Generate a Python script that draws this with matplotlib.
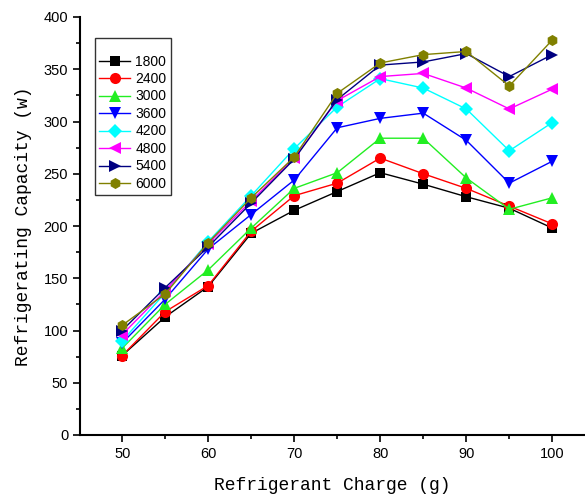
import numpy as np
import matplotlib.pyplot as plt
from matplotlib.ticker import MultipleLocator

# refrigerant charge (g)
charge = [50, 55, 60, 65, 70, 75, 80, 85, 90, 95, 100]

# refrigerating capacity (w) for each speed
cap_1800 = [76, 113, 142, 193, 215, 233, 251, 240, 228, 217, 198]
cap_2400 = [76, 118, 143, 195, 229, 241, 265, 250, 236, 219, 202]
cap_3000 = [83, 125, 158, 198, 236, 251, 284, 284, 246, 216, 227]
cap_3600 = [88, 130, 178, 211, 244, 294, 303, 308, 282, 241, 262]
cap_4200 = [90, 136, 185, 229, 274, 314, 341, 332, 312, 272, 299]
cap_4800 = [96, 138, 183, 224, 265, 320, 343, 346, 332, 312, 331]
cap_5400 = [100, 141, 180, 222, 264, 321, 354, 357, 365, 343, 364]
cap_6000 = [105, 135, 184, 227, 266, 327, 356, 364, 367, 334, 378]

labels = ['1800', '2400', '3000', '3600', '4200', '4800', '5400', '6000']
series = [cap_1800, cap_2400, cap_3000, cap_3600, cap_4200, cap_4800, cap_5400, cap_6000]
colors = ['black', 'red', '#22ee22', 'blue', 'cyan', 'magenta', 'navy', 'olive']
markers = ['s', 'o', '^', 'v', 'D', '<', '>', 'h']
sizes = [7, 8, 9, 9, 7, 9, 9, 8]

fig = plt.figure(figsize=(5.85, 4.97), dpi=100)
ax = fig.add_axes([80 / 585, 62 / 497, 505 / 585, 418 / 497])

for y, lab, c, m, s in zip(series, labels, colors, markers, sizes):
    ax.plot(charge, y, color=c, marker=m, markersize=s, linewidth=1,
            markeredgewidth=0, label=lab)

ax.set_xlim(45.1, 103.8)
ax.set_ylim(0, 400)
ax.xaxis.set_major_locator(MultipleLocator(10))
ax.xaxis.set_minor_locator(MultipleLocator(5))
ax.yaxis.set_major_locator(MultipleLocator(50))
ax.yaxis.set_minor_locator(MultipleLocator(25))
ax.tick_params(which='major', direction='out', length=5, width=1.2,
               labelsize=10.5, labelfontfamily='Liberation Sans')
ax.tick_params(which='minor', direction='out', length=3, width=1.2)
ax.spines['top'].set_visible(False)
ax.spines['right'].set_visible(False)
ax.spines['left'].set_linewidth(1.5)
ax.spines['bottom'].set_linewidth(1.5)

ax.set_xlabel('Refrigerant Charge (g)', fontsize=13, family='Liberation Mono', labelpad=12)
ax.set_ylabel('Refrigerating Capacity (w)', fontsize=13, family='Liberation Mono', labelpad=8)

leg = ax.legend(loc='upper left', bbox_to_anchor=(0.03, 0.95), title=' ',
                title_fontsize=6, borderaxespad=0,
                frameon=True, fancybox=False, edgecolor='black',
                prop={'family': 'Liberation Sans', 'size': 10},
                handlelength=2.2, labelspacing=0.25, borderpad=0.3,
                handletextpad=0.4)
leg.get_frame().set_linewidth(1)

fig.savefig('out.png', dpi=100)
